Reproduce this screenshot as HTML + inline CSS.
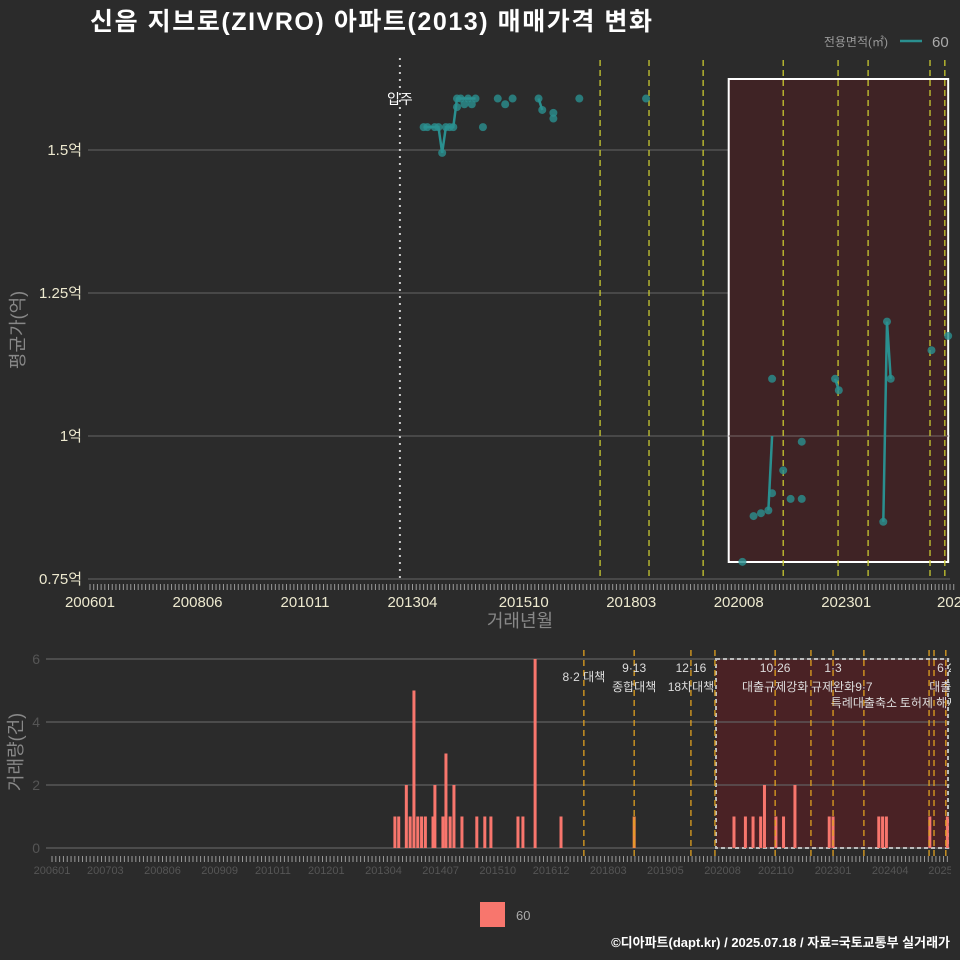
<!DOCTYPE html>
<html><head><meta charset="utf-8"><style>
body{margin:0;background:#2b2b2b;overflow:hidden;}
svg{display:block;}
svg text{font-family:"Liberation Sans","Noto Sans CJK KR",sans-serif;}
</style></head><body>
<svg id="c" width="960" height="960" xmlns="http://www.w3.org/2000/svg">
<defs><clipPath id="clipR"><rect x="0" y="0" width="951" height="960"/></clipPath></defs>
<rect width="960" height="960" fill="#2b2b2b"/>
<text x="90" y="30" font-size="25" font-weight="bold" fill="#ffffff" textLength="562">신음 지브로(ZIVRO) 아파트(2013) 매매가격 변화</text>
<text x="888" y="46" font-size="12" fill="#999" text-anchor="end">전용면적(㎡)</text>
<line x1="900" y1="41" x2="922" y2="41" stroke="#2a8f8f" stroke-width="2.5"/>
<text x="932" y="47" font-size="15" fill="#aaa">60</text>
<g id="topg"></g>
<g id="botg" clip-path="url(#clipR)"></g>
<rect x="480" y="902" width="25" height="25" fill="#f8766d"/>
<text x="516" y="920" font-size="13" fill="#aaa">60</text>
<text x="950" y="947" font-size="13" font-weight="bold" fill="#fff" text-anchor="end">©디아파트(dapt.kr) / 2025.07.18 / 자료=국토교통부 실거래가</text>
</svg>
<script>
// month index: months since 2006-01
const tradeMonths=[90,91,93,94,95,96,97,98,99,99,100,101,102,103,104,106,110,112,114,121,122,125,125,132,150,176,179,181,183,184,184,187,189,192,192,201,202,214,215,216,227,231.5];
const tradePrices=[1.54,1.54,1.54,1.54,1.495,1.54,1.54,1.54,1.575,1.59,1.59,1.58,1.59,1.58,1.59,1.54,1.59,1.58,1.59,1.59,1.57,1.565,1.555,1.59,1.59,0.78,0.86,0.865,0.87,0.90,1.10,0.94,0.89,0.89,0.99,1.10,1.08,0.85,1.20,1.10,1.15,1.175];
const lineMonths=[[90,91,93,94,95,96,97,98,99,100,101,102,103,104],[121,122],[183,184],[201,202],[214,215,216]];
const linePrices=[[1.54,1.54,1.54,1.54,1.495,1.54,1.54,1.54,1.59,1.59,1.59,1.59,1.59,1.59],[1.59,1.57],[0.87,1.0],[1.10,1.08],[0.85,1.20,1.10]];
const yTicks=[0.75,1,1.25,1.5];
const yTickLabels=["0.75억","1억","1.25억","1.5억"];
const xTickMonths=[0,29,58,87,117,146,175,204,233];
const xTickLabels=["200601","200806","201011","201304","201510","201803","202008","202301","2025"];
const topEvents=[137.6,150.8,165.4,187,201.8,209.9,226.6,230.6];
const moveIn=83.6;
const barMonths=[90,91,93,94,95,96,97,98,100,100.5,102.6,103.4,104.5,105.5,107.6,111.5,113.6,115.2,122.3,123.6,126.8,133.6,152.8,179,182,184,186,187,190,192,195,204,205,217,218,219,230.4,235];
const barCounts=[1,1,2,1,5,1,1,1,1,2,1,3,1,2,1,1,1,1,1,1,6,1,1,1,1,1,1,2,1,1,2,1,1,1,1,1,1,1];
const botTicks=[0,2,4,6];
const botXMonths=[0,14,29,44,58,72,87,102,117,131,146,161,176,190,205,220,234];
const botXLabels=["200601","200703","200806","200909","201011","201201","201304","201407","201510","201612","201803","201905","202008","202110","202301","202404","20250"];
const botEvents=[139.6,152.8,167.7,174,189.8,199.2,205,213.1,230.2,231.5,234.6];
const evTop=["8·2 대책","9·13","12·16","","10·26","","1·3","","","","6·2"];
const evBot=["","종합대책","18차대책","","대출규제강화","","규제완화","9·7","","","대출규"];
const evBot2=["","","","","","","","특례대출축소","토허제 해제","",""];

const NS="http://www.w3.org/2000/svg";
function mk(p,t,a){const e=document.createElementNS(NS,t);for(const k in a)e.setAttribute(k,a[k]);p.appendChild(e);return e;}
const gTop=document.getElementById('topg'),gBot=document.getElementById('botg');
const tx=m=>90+m*3.707, ty=v=>579-(v-0.75)*572;
const bx=m=>52+m*3.81, by=v=>848-v*31.5;

yTicks.forEach((v,i)=>{
 let l=mk(gTop,'line',{x1:88,x2:950,y1:ty(v),y2:ty(v),stroke:'#5a5a5a','stroke-width':1.2});
 
 
 let t=mk(gTop,'text',{x:82,y:ty(v)+5,'font-size':15,fill:'#ede9cf','text-anchor':'end'});t.textContent=yTickLabels[i];
 
 
});
let box=mk(gTop,'rect',{x:tx(172.3),y:79,width:tx(231.5)-tx(172.3),height:483,fill:'#3f2325',stroke:'#fff','stroke-width':2});


mk(gTop,'line',{x1:tx(172.3),x2:tx(231.5),y1:ty(1),y2:ty(1),stroke:'#6a5a5a','stroke-width':1.2});
for(let m=0;m<=233;m++){mk(gTop,'line',{x1:tx(m),x2:tx(m),y1:584,y2:590,stroke:'#999','stroke-width':1});}
xTickMonths.forEach((m,i)=>{let t=mk(gTop,'text',{x:tx(m),y:607,'font-size':15,fill:'#ede9cf','text-anchor':'middle'});t.textContent=xTickLabels[i];
 
 });
let mv=mk(gTop,'line',{x1:tx(moveIn),x2:tx(moveIn),y1:58,y2:580,stroke:'#ccc','stroke-width':2,'stroke-dasharray':'2 5'});


let mvt=mk(gTop,'text',{x:tx(moveIn),y:104,'font-size':14,fill:'#fff','text-anchor':'middle'});mvt.textContent='입주';


topEvents.forEach(m=>{let l=mk(gTop,'line',{x1:tx(m),x2:tx(m),y1:60,y2:580,stroke:'#c8c830','stroke-width':1.3,'stroke-dasharray':'6 4'});
 
 });
lineMonths.forEach((ms,j)=>{let d=ms.map((m,i)=>(i?'L':'M')+tx(m)+' '+ty(linePrices[j][i])).join('');
 let p=mk(gTop,'path',{d:d,fill:'none',stroke:'#2a8f8f','stroke-width':2.5});
 
 });
tradeMonths.forEach((m,i)=>{let c=mk(gTop,'circle',{cx:tx(m),cy:ty(tradePrices[i]),r:4,fill:'#2a9090','fill-opacity':0.8});
 
 });
let xt=mk(gTop,'text',{x:520,y:627,'font-size':18,fill:'#888','text-anchor':'middle'});xt.textContent='거래년월';


let yt=mk(gTop,'text',{x:0,y:0,'font-size':18,fill:'#888','text-anchor':'middle',transform:'translate(24,330) rotate(-90)'});yt.textContent='평균가(억)';



let bb=mk(gBot,'rect',{x:716,y:659,width:232,height:189,fill:'#4a2225'});


botTicks.forEach(v=>{let l=mk(gBot,'line',{x1:46,x2:950,y1:by(v),y2:by(v),stroke:'#606060','stroke-width':1.2});
 
 
 let t=mk(gBot,'text',{x:40,y:by(v)+5,'font-size':14,fill:'#555','text-anchor':'end'});t.textContent=v;
 
 });
mk(gBot,'rect',{x:716,y:659,width:232,height:189,fill:'none',stroke:'#bbb','stroke-width':2,'stroke-dasharray':'4 3'});
for(let m=0;m<=235;m++){mk(gBot,'line',{x1:bx(m),x2:bx(m),y1:856,y2:862,stroke:'#999','stroke-width':1});}
botXMonths.forEach((m,i)=>{let t=mk(gBot,'text',{x:bx(m),y:874,'font-size':11,fill:'#555','text-anchor':'middle'});t.textContent=botXLabels[i];
 
 });
barMonths.forEach((m,i)=>{let r=mk(gBot,'rect',{x:bx(m)-1.5,y:by(barCounts[i]),width:3,height:barCounts[i]*31.5,fill:m>150&&m<155?'#f08a40':'#f8766d'});
 
 });
botEvents.forEach((m,i)=>{let l=mk(gBot,'line',{x1:bx(m),x2:bx(m),y1:650,y2:858,stroke:'#e0a020','stroke-width':1.3,'stroke-dasharray':'6 4'});
 
 
 const labs=[[evTop[i],i==0?681:672],[evBot[i],691],[evBot2[i],707]];
 labs.forEach(([s,y])=>{if(!s)return;let t=mk(gBot,'text',{x:bx(m),y:y,'font-size':12,fill:'#ddd','text-anchor':'middle'});t.textContent=s;
  
  });
});
let yb=mk(gBot,'text',{x:0,y:0,'font-size':18,fill:'#888','text-anchor':'middle',transform:'translate(22,752) rotate(-90)'});yb.textContent='거래량(건)';


</script>
</body></html>
